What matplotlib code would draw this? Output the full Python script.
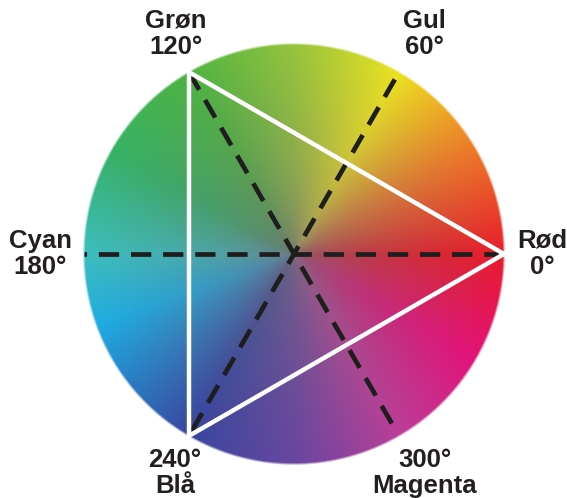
import numpy as np
import matplotlib.pyplot as plt

# hue anchors (degrees) and the wheel colour at the rim
hue_deg = [0, 30, 60, 90, 120, 150, 180, 200, 240, 270, 300, 330, 360]
hue_rgb = [(232, 28, 42), (238, 120, 40), (236, 226, 34), (150, 196, 60),
           (78, 180, 66), (54, 178, 100), (60, 190, 190), (30, 172, 226),
           (56, 70, 160), (104, 70, 160), (186, 62, 152), (228, 18, 122),
           (232, 28, 42)]
center_rgb = (118, 110, 120)

# labels on the wheel
label_text = ['Rød\n0°', 'Gul\n60°', 'Grøn\n120°', 'Cyan\n180°', '240°\nBlå', '300°\nMagenta']
label_ang = [0, 60, 120, 180, 240, 300]

cx, cy, R = 294, 254, 210
W, H = 567, 498

fig = plt.figure(figsize=(W / 100, H / 100), dpi=100)
ax = fig.add_axes([0, 0, 1, 1])
ax.set_xlim(0, W)
ax.set_ylim(H, 0)
ax.axis('off')

# build the wheel image
yy, xx = np.mgrid[0:H, 0:W] + 0.5
dx = xx - cx
dy = cy - yy
rr = np.hypot(dx, dy) / R
ang = np.degrees(np.arctan2(dy, dx)) % 360
rim = np.stack([np.interp(ang, hue_deg, [c[i] for c in hue_rgb]) for i in range(3)], -1) / 255
mid = np.array(center_rgb) / 255
s = np.clip(rr, 0, 1) ** 0.45
img = mid + (rim - mid) * s[..., None]
alpha = np.clip((1.0 - rr) * R / 2.5 + 0.5, 0, 1)
rgba = np.dstack([np.clip(img, 0, 1), alpha])
ax.imshow(rgba, extent=(0, W, H, 0), interpolation='bilinear', zorder=1)

# dashed hue axes
for a in [0, 60, 120]:
    t = np.radians(a)
    x0, y0 = cx + R * np.cos(t), cy - R * np.sin(t)
    x1, y1 = cx - R * np.cos(t), cy + R * np.sin(t)
    if a == 60:
        x0, y0 = cx + R * 0.96 * np.cos(t), cy - R * 0.96 * np.sin(t)
    elif a == 120:
        x1, y1 = cx - R * 0.96 * np.cos(t), cy + R * 0.96 * np.sin(t)
    ax.plot([x0, x1], [y0, y1], color='#1e1e1e', lw=3.4, dashes=(4.3, 2.5), zorder=3)

# white triangle through red, green, blue
tri = np.radians([0, 120, 240, 0])
ax.plot(cx + R * np.cos(tri), cy - R * np.sin(tri), color='white', lw=3.2,
        solid_joinstyle='miter', zorder=4)

# label placement (pixel offsets from centre, per angle)
offs = {0: (248, 0), 60: (130, -220), 120: (-118, -220),
        180: (-254, 0), 240: (-119, 219), 300: (131, 219)}
for txt, a in zip(label_text, label_ang):
    ox, oy = offs[a]
    ax.text(cx + ox, cy + oy, txt, ha='center', va='center',
            fontsize=18.5, fontweight='bold', family='Liberation Sans', color='#231f20',
            linespacing=1.12)

fig.savefig('out.png', dpi=100)
